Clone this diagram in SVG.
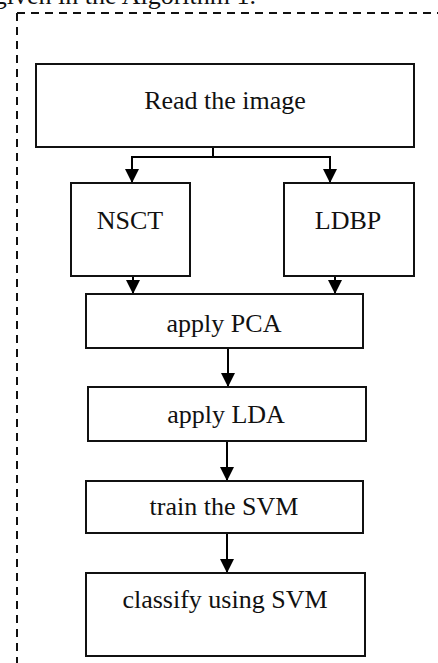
<svg xmlns="http://www.w3.org/2000/svg" width="438" height="663" viewBox="0 0 438 663">
<defs>
<marker id="ah" markerUnits="userSpaceOnUse" markerWidth="14" markerHeight="14" refX="14" refY="7" orient="auto">
<path d="M0,0 L14,7 L0,14 z" fill="#000"/>
</marker>
<style>
.box{fill:#fff;stroke:#111;stroke-width:2}
.t{font-family:"Liberation Serif","Times New Roman",serif;font-size:26px;fill:#111;text-anchor:middle}
.c{fill:none;stroke:#000;stroke-width:2}
.frame{fill:none;stroke:#111;stroke-width:2;stroke-dasharray:8 6}
</style>
</defs>
<rect width="438" height="663" fill="#fff"/>
<text x="256" y="4" font-family="Liberation Serif,serif" font-size="26" fill="#111" text-anchor="end">given in the Algorithm 1.</text>
<g id="frame">
<path class="frame" d="M17,13 H438"/>
<path class="frame" d="M17,13 V663"/>
</g>
<g id="connectors">
<path class="c" d="M213,147 V157 H132 V183" marker-end="url(#ah)"/>
<path class="c" d="M213,157 H330 V183" marker-end="url(#ah)"/>
<path class="c" d="M133,276 V294" marker-end="url(#ah)"/>
<path class="c" d="M335,276 V294" marker-end="url(#ah)"/>
<path class="c" d="M228,348 V387" marker-end="url(#ah)"/>
<path class="c" d="M227,441 V481" marker-end="url(#ah)"/>
<path class="c" d="M227,533 V573" marker-end="url(#ah)"/>
</g>
<g id="read"><rect class="box" x="36" y="64" width="378" height="83"/><text class="t" x="225" y="109">Read the image</text></g>
<g id="nsct"><rect class="box" x="71" y="183" width="119" height="93"/><text class="t" x="130" y="229">NSCT</text></g>
<g id="ldbp"><rect class="box" x="284" y="183" width="130" height="93"/><text class="t" x="348" y="229">LDBP</text></g>
<g id="pca"><rect class="box" x="86" y="294" width="277" height="54"/><text class="t" x="224" y="332">apply PCA</text></g>
<g id="lda"><rect class="box" x="88" y="387" width="278" height="54"/><text class="t" x="226" y="423">apply LDA</text></g>
<g id="train"><rect class="box" x="86" y="481" width="277" height="52"/><text class="t" x="224" y="515">train the SVM</text></g>
<g id="classify"><rect class="box" x="86" y="573" width="279" height="83"/><text class="t" x="225" y="608">classify using SVM</text></g>
</svg>
